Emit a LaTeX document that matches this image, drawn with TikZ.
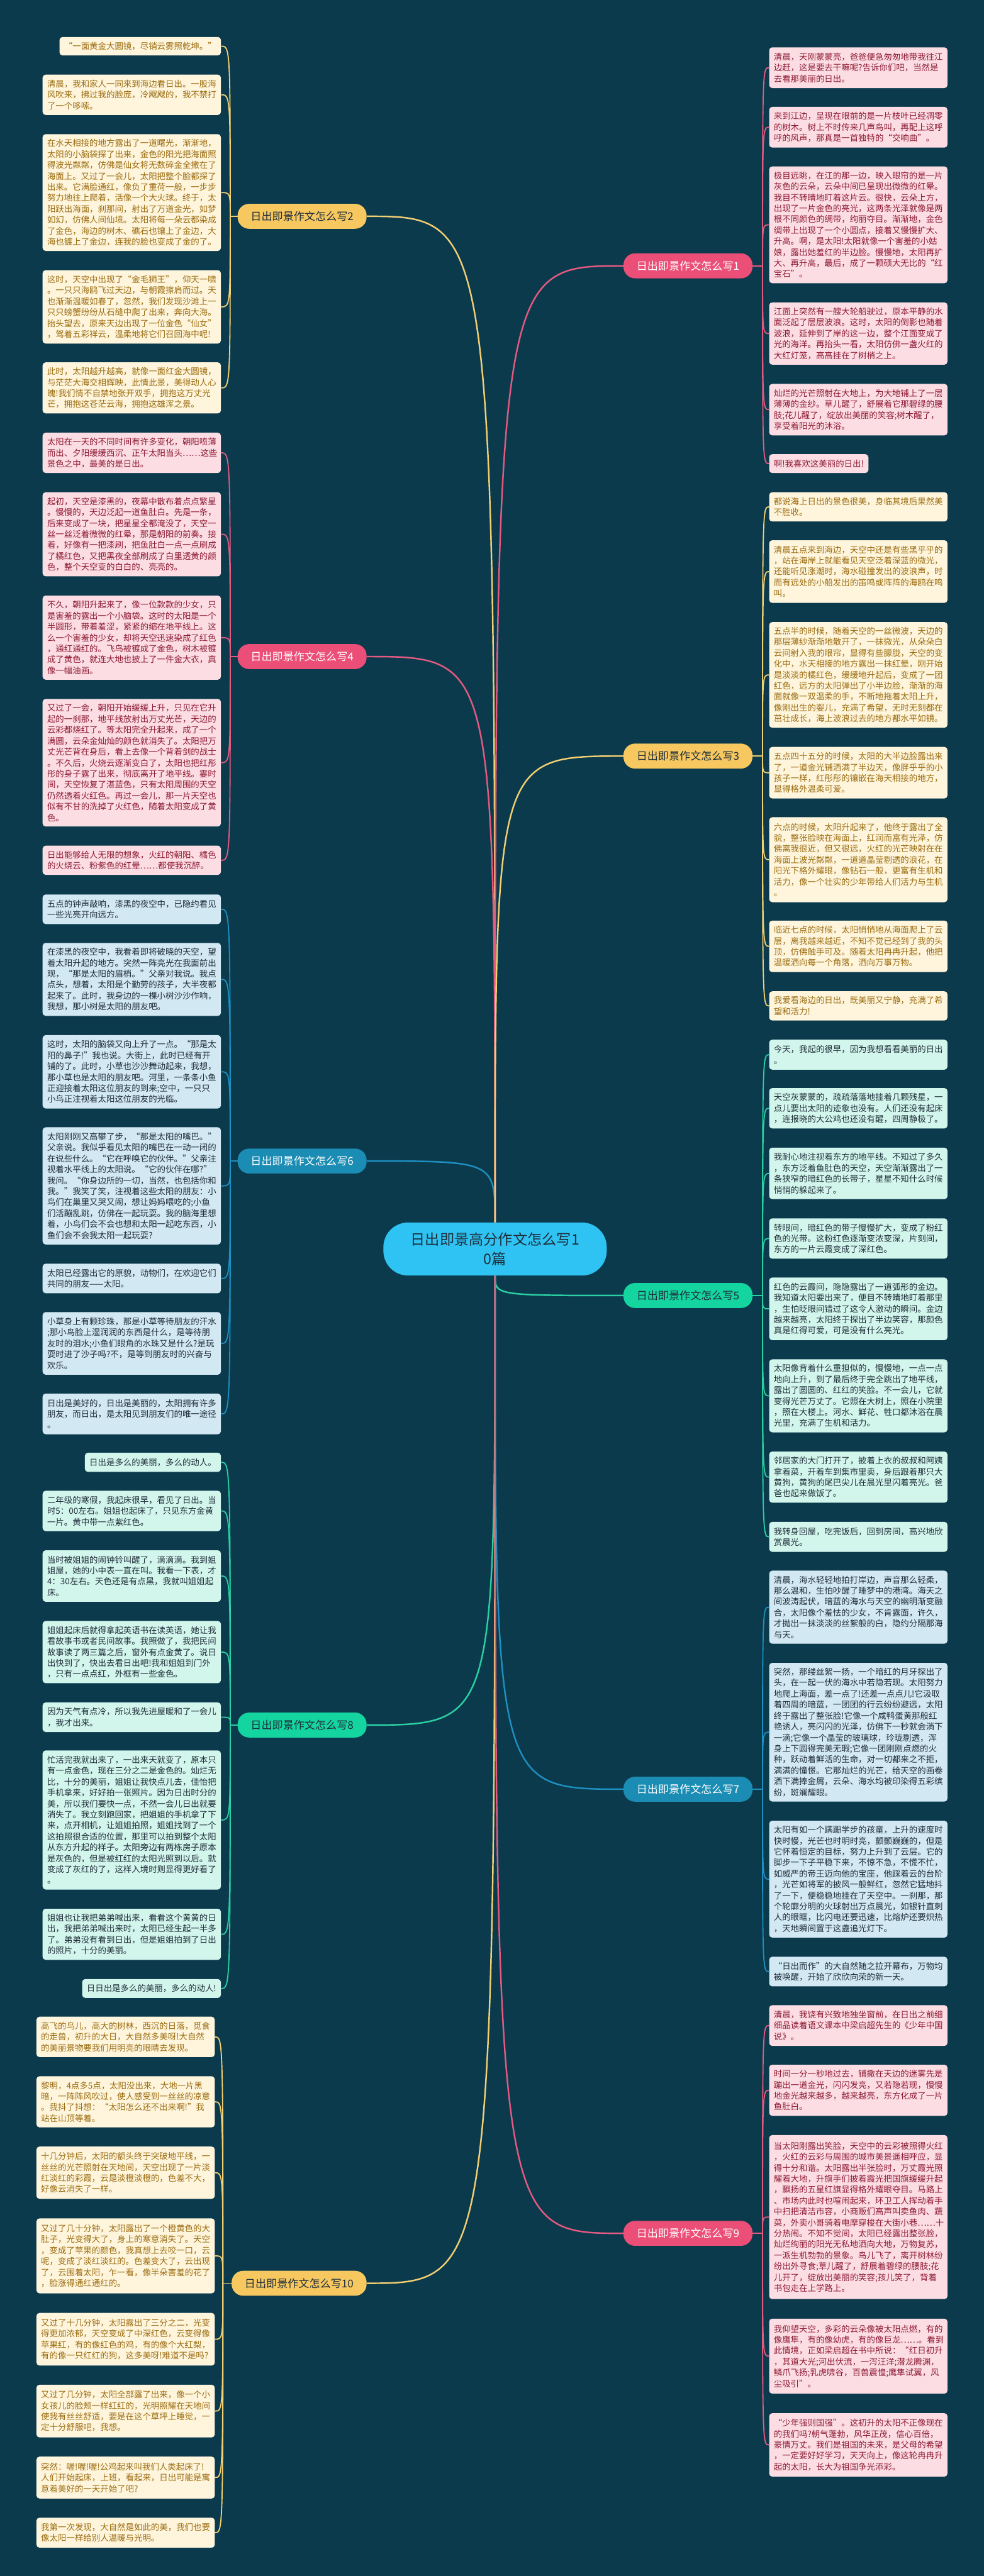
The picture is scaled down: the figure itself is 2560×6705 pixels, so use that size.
\documentclass[tikz,border=0pt]{standalone}
\usepackage{fontspec}
\setmainfont{Noto Sans CJK SC}
\usetikzlibrary{positioning}
\definecolor{NightSea}{HTML}{0B3A4D}
\definecolor{SunPill}{HTML}{F6C85F}
\definecolor{SunLeaf}{HTML}{FEF5DC}
\definecolor{SunInk}{HTML}{9C6C10}
\definecolor{SunLine}{HTML}{F2CF72}
\definecolor{RosePill}{HTML}{EB4F77}
\definecolor{RoseLeaf}{HTML}{FCDDE4}
\definecolor{RoseInk}{HTML}{8E1B33}
\definecolor{RoseLine}{HTML}{E45A80}
\definecolor{SeaPill}{HTML}{1B8CB3}
\definecolor{SeaLeaf}{HTML}{D2E8F2}
\definecolor{SeaLine}{HTML}{1D8FC0}
\definecolor{MintPill}{HTML}{14D4A0}
\definecolor{MintLeaf}{HTML}{D3F6EC}
\definecolor{MintLine}{HTML}{2AD0A3}
\definecolor{DarkInk}{HTML}{1F2D3A}
\definecolor{RootBlue}{HTML}{2EC3F3}
\tikzset{
  leaf/.style={rounded corners=8pt, inner xsep=12pt, inner ysep=0pt, align=left,
    font=\fontsize{22}{28.5}\selectfont},
  fullw/.style={text width=440pt},
  leafY/.style={leaf, fill=SunLeaf, text=SunInk},
  leafP/.style={leaf, fill=RoseLeaf, text=RoseInk},
  leafB/.style={leaf, fill=SeaLeaf, text=DarkInk},
  leafG/.style={leaf, fill=MintLeaf, text=DarkInk},
  branch/.style={rounded corners=30pt, minimum height=65pt, inner xsep=34pt,
    font=\fontsize{28}{32}\selectfont},
  link/.style={line width=3pt},
  trunk/.style={line width=4pt},
}
\begin{document}
\begin{tikzpicture}[x=1pt, y=-1pt]
\useasboundingbox (0,0) rectangle (2560,6705);
\fill[NightSea] (0,0) rectangle (2560,6705);

% centre
\node[fill=RootBlue, text=DarkInk, rounded corners=64pt, minimum width=581pt,
      minimum height=138pt, align=center, font=\fontsize{38}{52}\selectfont]
      (root) at (1288,3251) {日出即景高分作文怎么写1\\0篇};

% branches
\node[branch, fill=SunPill, text=DarkInk, anchor=east] (b2) at (954,563) {日出即景作文怎么写2};
\node[branch, fill=RosePill, text=white, anchor=east] (b4) at (954,1709) {日出即景作文怎么写4};
\node[branch, fill=SeaPill, text=white, anchor=east] (b6) at (954,3022) {日出即景作文怎么写6};
\node[branch, fill=MintPill, text=DarkInk, anchor=east] (b8) at (954,4490) {日出即景作文怎么写8};
\node[branch, fill=SunPill, text=DarkInk, anchor=east] (b10) at (954,5943) {日出即景作文怎么写10};
\node[branch, fill=RosePill, text=white, anchor=west] (b1) at (1622,692) {日出即景作文怎么写1};
\node[branch, fill=SunPill, text=DarkInk, anchor=west] (b3) at (1622,1968) {日出即景作文怎么写3};
\node[branch, fill=MintPill, text=DarkInk, anchor=west] (b5) at (1622,3372) {日出即景作文怎么写5};
\node[branch, fill=SeaPill, text=white, anchor=west] (b7) at (1622,4657) {日出即景作文怎么写7};
\node[branch, fill=RosePill, text=white, anchor=west] (b9) at (1622,5813) {日出即景作文怎么写9};

% essay 2
\node[leafY, anchor=north east, minimum height=48pt] (l2a) at (575,96) {“一面黄金大圆镜，尽销云雾照乾坤。”};
\node[leafY, fullw, anchor=north east, minimum height=105pt] (l2b) at (575,194) {清晨，我和家人一同来到海边看日出。一股海\\风吹来，拂过我的脸庞，冷飕飕的，我不禁打\\了一个哆嗦。};
\node[leafY, fullw, anchor=north east, minimum height=304pt] (l2c) at (575,349) {在水天相接的地方露出了一道曙光，渐渐地，\\太阳的小脑袋探了出来，金色的阳光把海面照\\得波光粼粼，仿佛是仙女将无数碎金全撒在了\\海面上。又过了一会儿，太阳把整个脸都探了\\出来。它满脸通红，像负了重荷一般，一步步\\努力地往上爬着，活像一个大火球。终于，太\\阳跃出海面，刹那间，射出了万道金光，如梦\\如幻，仿佛人间仙境。太阳将每一朵云都染成\\了金色，海边的树木、礁石也镶上了金边，大\\海也镀上了金边，连我的脸也变成了金的了。};
\node[leafY, fullw, anchor=north east, minimum height=191pt] (l2d) at (575,703) {这时，天空中出现了“金毛狮王”，仰天一啸\\。一只只海鸥飞过天边，与朝霞擦肩而过。天\\也渐渐温暖如春了，忽然，我们发现沙滩上一\\只只螃蟹纷纷从石缝中爬了出来，奔向大海。\\抬头望去，原来天边出现了一位金色“仙女”\\，驾着五彩祥云，温柔地将它们召回海中呢!};
\node[leafY, fullw, anchor=north east, minimum height=133pt] (l2e) at (575,943) {此时，太阳越升越高，就像一面红金大圆镜，\\与茫茫大海交相辉映，此情此景，美得动人心\\魄!我们情不自禁地张开双手，拥抱这万丈光\\芒，拥抱这苍茫云海，拥抱这雄浑之景。};

% essay 4
\node[leafP, fullw, anchor=north east, minimum height=105pt] (l4a) at (575,1126) {太阳在一天的不同时间有许多变化，朝阳喷薄\\而出、夕阳缓缓西沉、正午太阳当头……这些\\景色之中，最美的是日出。};
\node[leafP, fullw, anchor=north east, minimum height=219pt] (l4b) at (575,1281) {起初，天空是漆黑的，夜幕中散布着点点繁星\\。慢慢的，天边泛起一道鱼肚白。先是一条，\\后来变成了一块，把星星全都淹没了，天空一\\丝一丝泛着微微的红晕，那是朝阳的前奏。接\\着，好像有一把漆刷，把鱼肚白一点一点刷成\\了橘红色，又把黑夜全部刷成了白里透黄的颜\\色，整个天空变的白白的、亮亮的。};
\node[leafP, fullw, anchor=north east, minimum height=219pt] (l4c) at (575,1550) {不久，朝阳升起来了，像一位款款的少女，只\\是害羞的露出一个小脑袋。这时的太阳是一个\\半圆形，带着羞涩，紧紧的缩在地平线上。这\\么一个害羞的少女，却将天空迅速染成了红色\\，通红通红的。飞鸟被镀成了金色，树木被镀\\成了黄色，就连大地也披上了一件金大衣，真\\像一幅油画。};
\node[leafP, fullw, anchor=north east, minimum height=332pt] (l4d) at (575,1819) {又过了一会，朝阳开始缓缓上升，只见在它升\\起的一刹那，地平线放射出万丈光芒，天边的\\云彩都烧红了。等太阳完全升起来，成了一个\\满圆，云朵金灿灿的颜色就消失了。太阳把万\\丈光芒背在身后，看上去像一个背着剑的战士\\。不久后，火烧云逐渐变白了，太阳也把红彤\\彤的身子露了出来，彻底离开了地平线。霎时\\间，天空恢复了湛蓝色，只有太阳周围的天空\\仍然透着火红色。再过一会儿，那一片天空也\\似有不甘的洗掉了火红色，随着太阳变成了黄\\色。};
\node[leafP, fullw, anchor=north east, minimum height=76pt] (l4e) at (575,2201) {日出能够给人无限的想象，火红的朝阳、橘色\\的火烧云、粉紫色的红晕……都使我沉醉。};

% essay 6
\node[leafB, fullw, anchor=north east, minimum height=77pt] (l6a) at (575,2328) {五点的钟声敲响，漆黑的夜空中，已隐约看见\\一些光亮开向远方。};
\node[leafB, fullw, anchor=north east, minimum height=190pt] (l6b) at (575,2454) {在漆黑的夜空中，我看着即将破晓的天空，望\\着太阳升起的地方。突然一阵亮光在我面前出\\现，“那是太阳的眉梢。”父亲对我说。我点\\点头，想着，太阳是个勤劳的孩子，大半夜都\\起来了。此时，我身边的一棵小树沙沙作响，\\我想，那小树是太阳的朋友吧。};
\node[leafB, fullw, anchor=north east, minimum height=191pt] (l6c) at (575,2694) {这时，太阳的脑袋又向上升了一点。“那是太\\阳的鼻子!”我也说。大街上，此时已经有开\\铺的了。此时，小草也沙沙舞动起来，我想，\\那小草也是太阳的朋友吧。河里，一条条小鱼\\正迎接着太阳这位朋友的到来;空中，一只只\\小鸟正注视着太阳这位朋友的光临。};
\node[leafB, fullw, anchor=north east, minimum height=305pt] (l6d) at (575,2934) {太阳刚刚又高攀了步，“那是太阳的嘴巴。”\\父亲说。我似乎看见太阳的嘴巴在一动一闭的\\在说些什么。“它在呼唤它的伙伴。”父亲注\\视着水平线上的太阳说。“它的伙伴在哪?”\\我问。“你身边所的一切，当然，也包括你和\\我。”我笑了笑，注视着这些太阳的朋友：小\\鸟们在巢里又哭又闹，想让妈妈喂吃的;小鱼\\们活蹦乱跳，仿佛在一起玩耍。我的脑海里想\\着，小鸟们会不会也想和太阳一起吃东西，小\\鱼们会不会我太阳一起玩耍?};
\node[leafB, fullw, anchor=north east, minimum height=77pt] (l6e) at (575,3289) {太阳已经露出它的原貌，动物们，在欢迎它们\\共同的朋友——太阳。};
\node[leafB, fullw, anchor=north east, minimum height=163pt] (l6f) at (575,3415) {小草身上有颗珍珠，那是小草等待朋友的汗水\\;那小鸟脸上湿润润的东西是什么，是等待朋\\友时的泪水;小鱼们眼角的水珠又是什么?是玩\\耍时进了沙子吗?不，是等到朋友时的兴奋与\\欢乐。};
\node[leafB, fullw, anchor=north east, minimum height=106pt] (l6g) at (575,3627) {日出是美好的，日出是美丽的，太阳拥有许多\\朋友，而日出，是太阳见到朋友们的唯一途径\\。};

% essay 8
\node[leafG, anchor=north east, minimum height=50pt] (l8a) at (575,3781) {日出是多么的美丽，多么的动人。};
\node[leafG, fullw, anchor=north east, minimum height=105pt] (l8b) at (575,3880) {二年级的寒假，我起床很早，看见了日出。当\\时5：00左右。姐姐也起床了，只见东方金黄\\一片。黄中带一点紫红色。};
\node[leafG, fullw, anchor=north east, minimum height=134pt] (l8c) at (575,4035) {当时被姐姐的闹钟铃叫醒了，滴滴滴。我到姐\\姐屋，她的小中表一直在叫。我看一下表，才\\4：30左右。天色还是有点黑，我就叫姐姐起\\床。};
\node[leafG, fullw, anchor=north east, minimum height=162pt] (l8d) at (575,4219) {姐姐起床后就得拿起英语书在读英语，她让我\\看故事书或者民间故事。我照做了，我把民间\\故事读了两三篇之后，窗外有点金黄了。说日\\出快到了，快出去看日出吧!我和姐姐到门外\\，只有一点点红，外框有一些金色。};
\node[leafG, fullw, anchor=north east, minimum height=77pt] (l8e) at (575,4431) {因为天气有点冷，所以我先进屋暖和了一会儿\\，我才出来。};
\node[leafG, fullw, anchor=north east, minimum height=362pt] (l8f) at (575,4556) {忙活完我就出来了，一出来天就变了，原本只\\有一点金色，现在三分之二是金色的。灿烂无\\比，十分的美丽，姐姐让我快点儿去，佳怡把\\手机拿来，好好拍一张照片。因为日出时分的\\美，所以我们要快一点，不然一会儿日出就要\\消失了。我立刻跑回家，把姐姐的手机拿了下\\来，点开相机，让姐姐拍照，姐姐找到了一个\\这拍照很合适的位置，那里可以拍到整个太阳\\从东方升起的样子。太阳旁边有两栋房子原本\\是灰色的，但是被红红的太阳光照到以后。就\\变成了灰红的了，这样入境时则显得更好看了\\。};
\node[leafG, fullw, anchor=north east, minimum height=133pt] (l8g) at (575,4968) {姐姐也让我把弟弟喊出来，看看这个黄黄的日\\出，我把弟弟喊出来时，太阳已经生起一半多\\了。弟弟没有看到日出，但是姐姐拍到了日出\\的照片，十分的美丽。};
\node[leafG, anchor=north east, minimum height=49pt] (l8h) at (575,5151) {日日出是多么的美丽，多么的动人!};

% essay 10
\node[leafY, fullw, anchor=north east, minimum height=105pt] (l10a) at (559,5249) {高飞的鸟儿，高大的树林，西沉的日落，觅食\\的走兽，初升的大日，大自然多美呀!大自然\\的美丽景物要我们用明亮的眼睛去发现。};
\node[leafY, fullw, anchor=north east, minimum height=133pt] (l10b) at (559,5404) {黎明，4点多5点，太阳没出来，大地一片黑\\暗，一阵阵风吹过，使人感受到一丝丝的凉意\\。我抖了抖想：“太阳怎么还不出来啊!”我\\站在山顶等着。};
\node[leafY, fullw, anchor=north east, minimum height=136pt] (l10c) at (559,5587) {十几分钟后，太阳的额头终于突破地平线，一\\丝丝的光芒照射在天地间，天空出现了一片淡\\红淡红的彩霞，云是淡橙淡橙的，色差不大，\\好像云消失了一样。};
\node[leafY, fullw, anchor=north east, minimum height=195pt] (l10d) at (559,5774) {又过了几十分钟，太阳露出了一个橙黄色的大\\肚子，光变得大了，身上的寒意消失了。天空\\，变成了苹果的颜色，我真想上去咬一口，云\\呢，变成了淡红淡红的。色差变大了，云出现\\了，云围着太阳，乍一看，像半朵害羞的花了\\，脸涨得通红通红的。};
\node[leafY, fullw, anchor=north east, minimum height=137pt] (l10e) at (559,6020) {又过了十几分钟，太阳露出了三分之二，光变\\得更加浓郁，天空变成了中深红色，云变得像\\苹果红，有的像红色的鸡，有的像个大红梨，\\有的像一只红红的狗，这多美呀!难道不是吗?};
\node[leafY, fullw, anchor=north east, minimum height=137pt] (l10f) at (559,6207) {又过了几分钟，太阳全部露了出来，像一个小\\女孩儿的脸颊一样红红的，光明照耀在天地间\\使我有丝丝舒适，要是在这个草坪上睡觉，一\\定十分舒服吧，我想。};
\node[leafY, fullw, anchor=north east, minimum height=109pt] (l10g) at (559,6394) {突然：喔!喔!喔!公鸡起来叫我们人类起床了!\\人们开始起床，上班，看起来，日出可能是寓\\意着美好的一天开始了吧?};
\node[leafY, fullw, anchor=north east, minimum height=78pt] (l10h) at (559,6553) {我第一次发现，大自然是如此的美，我们也要\\像太阳一样给别人温暖与光明。};

% essay 1
\node[leafP, fullw, anchor=north west, minimum height=106pt] (r1a) at (2001,123) {清晨，天刚蒙蒙亮，爸爸便急匆匆地带我往江\\边赶，这是要去干嘛呢?告诉你们吧，当然是\\去看那美丽的日出。};
\node[leafP, fullw, anchor=north west, minimum height=106pt] (r1b) at (2001,278) {来到江边，呈现在眼前的是一片枝叶已经凋零\\的树木。树上不时传来几声鸟叫，再配上这呼\\呼的风声，那真是一首独特的“交响曲”。};
\node[leafP, fullw, anchor=north west, minimum height=304pt] (r1c) at (2001,433) {极目远眺，在江的那一边，映入眼帘的是一片\\灰色的云朵，云朵中间已呈现出微微的红晕。\\我目不转睛地盯着这片云。很快，云朵上方，\\出现了一片金色的亮光，这两条光泽就像是两\\根不同颜色的绸带，绚丽夺目。渐渐地，金色\\绸带上出现了一个小圆点，接着又慢慢扩大、\\升高。啊，是太阳!太阳就像一个害羞的小姑\\娘，露出她羞红的半边脸。慢慢地，太阳再扩\\大、再升高，最后，成了一颗硕大无比的“红\\宝石”。};
\node[leafP, fullw, anchor=north west, minimum height=162pt] (r1d) at (2001,787) {江面上突然有一艘大轮船驶过，原本平静的水\\面泛起了层层波浪。这时，太阳的倒影也随着\\波浪，延伸到了岸的这一边，整个江面变成了\\光的海洋。再抬头一看，太阳仿佛一盏火红的\\大红灯笼，高高挂在了树梢之上。};
\node[leafP, fullw, anchor=north west, minimum height=134pt] (r1e) at (2001,999) {灿烂的光芒照射在大地上，为大地铺上了一层\\薄薄的金纱。草儿醒了，舒展着它那碧绿的腰\\肢;花儿醒了，绽放出美丽的笑容;树木醒了，\\享受着阳光的沐浴。};
\node[leafP, anchor=north west, minimum height=49pt] (r1f) at (2001,1182) {啊!我喜欢这美丽的日出!};

% essay 3
\node[leafY, fullw, anchor=north west, minimum height=76pt] (r3a) at (2001,1281) {都说海上日出的景色很美，身临其境后果然美\\不胜收。};
\node[leafY, fullw, anchor=north west, minimum height=163pt] (r3b) at (2001,1406) {清晨五点来到海边，天空中还是有些黑乎乎的\\，站在海岸上就能看见天空泛着深蓝的微光，\\还能听见涨潮时，海水碰撞发出的波浪声，时\\而有远处的小船发出的笛鸣或阵阵的海鸥在鸣\\叫。};
\node[leafY, fullw, anchor=north west, minimum height=275pt] (r3c) at (2001,1619) {五点半的时候，随着天空的一丝微波，天边的\\那层薄纱渐渐地散开了，一抹微光，从朵朵白\\云间射入我的眼帘，显得有些朦胧，天空的变\\化中，水天相接的地方露出一抹红晕，刚开始\\是淡淡的橘红色，缓缓地升起后，变成了一团\\红色，远方的太阳弹出了小半边脸，渐渐的海\\面就像一双温柔的手，不断地拖着太阳上升，\\像刚出生的婴儿，充满了希望，无时无刻都在\\茁壮成长，海上波浪过去的地方都水平如镜。};
\node[leafY, fullw, anchor=north west, minimum height=134pt] (r3d) at (2001,1944) {五点四十五分的时候，太阳的大半边脸露出来\\了，一道金光铺洒满了半边天，像胖乎乎的小\\孩子一样，红彤彤的镶嵌在海天相接的地方，\\显得格外温柔可爱。};
\node[leafY, fullw, anchor=north west, minimum height=221pt] (r3e) at (2001,2127) {六点的时候，太阳升起来了，他终于露出了全\\貌，整张脸映在海面上，红润而富有光泽，仿\\佛离我很近，但又很远，火红的光芒映射在在\\海面上波光粼粼，一道道晶莹剔透的浪花，在\\阳光下格外耀眼，像钻石一般，更富有生机和\\活力，像一个壮实的少年带给人们活力与生机\\。};
\node[leafY, fullw, anchor=north west, minimum height=134pt] (r3f) at (2001,2396) {临近七点的时候，太阳悄悄地从海面爬上了云\\层，离我越来越近，不知不觉已经到了我的头\\顶，仿佛触手可及。随着太阳冉冉升起，他把\\温暖洒向每一个角落，洒向万事万物。};
\node[leafY, fullw, anchor=north west, minimum height=76pt] (r3g) at (2001,2580) {我爱看海边的日出，既美丽又宁静，充满了希\\望和活力!};

% essay 5
\node[leafG, fullw, anchor=north west, minimum height=78pt] (r5a) at (2001,2706) {今天，我起的很早，因为我想看看美丽的日出\\。};
\node[leafG, fullw, anchor=north west, minimum height=105pt] (r5b) at (2001,2832) {天空灰蒙蒙的，疏疏落落地挂着几颗残星，一\\点儿要出太阳的迹象也没有。人们还没有起床\\，连报晓的大公鸡也还没有醒，四周静极了。};
\node[leafG, fullw, anchor=north west, minimum height=134pt] (r5c) at (2001,2987) {我耐心地注视着东方的地平线。不知过了多久\\，东方泛着鱼肚色的天空，天空渐渐露出了一\\条狭窄的暗红色的长带子，星星不知什么时候\\悄悄的躲起来了。};
\node[leafG, fullw, anchor=north west, minimum height=105pt] (r5d) at (2001,3171) {转眼间，暗红色的带子慢慢扩大，变成了粉红\\色的光带。这粉红色逐渐变浓变深，片刻间，\\东方的一片云霞变成了深红色。};
\node[leafG, fullw, anchor=north west, minimum height=163pt] (r5e) at (2001,3325) {红色的云霞间，隐隐露出了一道弧形的金边。\\我知道太阳要出来了，便目不转睛地盯着那里\\，生怕眨眼间错过了这令人激动的瞬间。金边\\越来越亮，太阳终于探出了半边笑容，那颜色\\真是红得可爱，可是没有什么亮光。};
\node[leafG, fullw, anchor=north west, minimum height=190pt] (r5f) at (2001,3538) {太阳像背着什么重担似的，慢慢地，一点一点\\地向上升，到了最后终于完全跳出了地平线，\\露出了圆圆的、红红的笑脸。不一会儿，它就\\变得光芒万丈了。它照在大树上，照在小院里\\，照在大楼上。河水、鲜花、牲口都沐浴在晨\\光里，充满了生机和活力。};
\node[leafG, fullw, anchor=north west, minimum height=133pt] (r5g) at (2001,3778) {邻居家的大门打开了，披着上衣的叔叔和阿姨\\拿着菜，开着车到集市里卖，身后跟着那只大\\黄狗，黄狗的尾巴尖儿在晨光里闪着亮光。爸\\爸也起来做饭了。};
\node[leafG, fullw, anchor=north west, minimum height=78pt] (r5h) at (2001,3961) {我转身回屋，吃完饭后，回到房间，高兴地欣\\赏晨光。};

% essay 7
\node[leafB, fullw, anchor=north west, minimum height=190pt] (r7a) at (2001,4088) {清晨，海水轻轻地拍打岸边，声音那么轻柔，\\那么温和，生怕吵醒了睡梦中的港湾。海天之\\间波涛起伏，暗蓝的海水与天空的幽明渐变融\\合，太阳像个羞怯的少女，不肯露面，许久，\\才抛出一抹淡淡的丝絮般的白，隐约分隔那海\\与天。};
\node[leafB, fullw, anchor=north west, minimum height=361pt] (r7b) at (2001,4328) {突然，那缕丝絮一扬，一个暗红的月牙探出了\\头，在一起一伏的海水中若隐若现。太阳努力\\地爬上海面，差一点了!还差一点点儿!它汲取\\着四周的暗蓝，一团团的行云纷纷避远，太阳\\终于露出了整张脸!它像一个咸鸭蛋黄那般红\\艳诱人，亮闪闪的光泽，仿佛下一秒就会淌下\\一滴;它像一个晶莹的玻璃球，玲珑剔透，浑\\身上下圆得完美无瑕;它像一团刚刚点燃的火\\种，跃动着鲜活的生命，对一切都来之不拒，\\满满的憧憬。它那灿烂的光芒，给天空的画卷\\洒下满捧金屑，云朵、海水均被印染得五彩缤\\纷，斑斓耀眼。};
\node[leafB, fullw, anchor=north west, minimum height=304pt] (r7c) at (2001,4739) {太阳有如一个蹒跚学步的孩童，上升的速度时\\快时慢，光芒也时明时亮，颤颤巍巍的，但是\\它怀着恒定的目标，努力上升到了云层。它的\\脚步一下子平稳下来，不惊不急，不慌不忙，\\如威严的帝王迈向他的宝座，他踩着云的台阶\\，光芒如将军的披风一般鲜红，忽然它猛地抖\\了一下，便稳稳地挂在了天空中。一刹那，那\\个轮廓分明的火球射出万点晨光，如银针直刺\\人的眼眶，比闪电还要迅速，比熔炉还要炽热\\，天地瞬间置于这盏追光灯下。};
\node[leafB, fullw, anchor=north west, minimum height=77pt] (r7d) at (2001,5093) {“日出而作”的大自然随之拉开幕布，万物均\\被唤醒，开始了欣欣向荣的新一天。};

% essay 9
\node[leafP, fullw, anchor=north west, minimum height=106pt] (r9a) at (2001,5219) {清晨，我饶有兴致地独坐窗前，在日出之前细\\细品读着语文课本中梁启超先生的《少年中国\\说》。};
\node[leafP, fullw, anchor=north west, minimum height=133pt] (r9b) at (2001,5374) {时间一分一秒地过去，铺撒在天边的迷雾先是\\蹦出一道金光，闪闪发亮，又若隐若现，慢慢\\地金光越来越多，越来越亮，东方化成了一片\\鱼肚白。};
\node[leafP, fullw, anchor=north west, minimum height=427pt] (r9c) at (2001,5557) {当太阳刚露出笑脸，天空中的云彩被照得火红\\，火红的云彩与周围的城市美景遥相呼应，显\\得十分和谐。太阳露出半张脸时，万丈霞光照\\耀着大地，升旗手们披着霞光把国旗缓缓升起\\，飘扬的五星红旗显得格外耀眼夺目。马路上\\、市场内此时也喧闹起来，环卫工人挥动着手\\中扫把清洁市容，小商贩们高声叫卖鱼肉、蔬\\菜，外卖小哥骑着电摩穿梭在大街小巷……十\\分热闹。不知不觉间，太阳已经露出整张脸，\\灿烂绚丽的阳光无私地洒向大地，万物复苏，\\一派生机勃勃的景象。鸟儿飞了，离开树林纷\\纷出外寻食;草儿醒了，舒展着碧绿的腰肢;花\\儿开了，绽放出美丽的笑容;孩儿笑了，背着\\书包走在上学路上。};
\node[leafP, fullw, anchor=north west, minimum height=195pt] (r9d) at (2001,6035) {我仰望天空，多彩的云朵像被太阳点燃，有的\\像鹰隼，有的像幼虎，有的像巨龙……。看到\\此情境，正如梁启超在书中所说：“红日初升\\，其道大光;河出伏流，一泻汪洋;潜龙腾渊，\\鳞爪飞扬;乳虎啸谷，百兽震惶;鹰隼试翼，风\\尘吸引”。};
\node[leafP, fullw, anchor=north west, minimum height=165pt] (r9e) at (2001,6281) {“少年强则国强”。这初升的太阳不正像现在\\的我们吗?朝气蓬勃，风华正茂，信心百倍，\\豪情万丈。我们是祖国的未来，是父母的希望\\，一定要好好学习，天天向上，像这轮冉冉升\\起的太阳，长大为祖国争光添彩。};

% junctions
\coordinate (j2) at (599,563);
\coordinate (j4) at (599,1709);
\coordinate (j6) at (599,3022);
\coordinate (j8) at (599,4490);
\coordinate (j10) at (580,5943);
\coordinate (j1) at (1984,692);
\coordinate (j3) at (1984,1968);
\coordinate (j5) at (1984,3372);
\coordinate (j7) at (1984,4657);
\coordinate (j9) at (1984,5813);

% centre to branches
\foreach \b/\c in {b2/SunLine,b4/RoseLine,b6/SeaLine}
  \draw[trunk, \c] (root.north) .. controls (root.north |- \b.east) .. (\b.east);
\foreach \b/\c in {b8/MintLine,b10/SunLine}
  \draw[trunk, \c] (root.south) .. controls (root.south |- \b.east) .. (\b.east);
\foreach \b/\c in {b1/RoseLine,b3/SunLine}
  \draw[trunk, \c] (root.north) .. controls (root.north |- \b.west) .. (\b.west);
\foreach \b/\c in {b5/MintLine,b7/SeaLine,b9/RoseLine}
  \draw[trunk, \c] (root.south) .. controls (root.south |- \b.west) .. (\b.west);

% branches to leaves
\foreach \j/\b/\c/\ls in {j2/b2/SunLine/{l2a,l2b,l2c,l2d,l2e},
    j4/b4/RoseLine/{l4a,l4b,l4c,l4d,l4e},
    j6/b6/SeaLine/{l6a,l6b,l6c,l6d,l6e,l6f,l6g},
    j8/b8/MintLine/{l8a,l8b,l8c,l8d,l8e,l8f,l8g,l8h},
    j10/b10/SunLine/{l10a,l10b,l10c,l10d,l10e,l10f,l10g,l10h}} {
  \draw[link, \c] (\b.west) -- (\j);
  \foreach \l in \ls
    \draw[link, \c] (\j) .. controls (\j |- \l.east) .. (\l.east);
}
\foreach \j/\b/\c/\ls in {j1/b1/RoseLine/{r1a,r1b,r1c,r1d,r1e,r1f},
    j3/b3/SunLine/{r3a,r3b,r3c,r3d,r3e,r3f,r3g},
    j5/b5/MintLine/{r5a,r5b,r5c,r5d,r5e,r5f,r5g,r5h},
    j7/b7/SeaLine/{r7a,r7b,r7c,r7d},
    j9/b9/RoseLine/{r9a,r9b,r9c,r9d,r9e}} {
  \draw[link, \c] (\b.east) -- (\j);
  \foreach \l in \ls
    \draw[link, \c] (\j) .. controls (\j |- \l.west) .. (\l.west);
}
\end{tikzpicture}
\end{document}
